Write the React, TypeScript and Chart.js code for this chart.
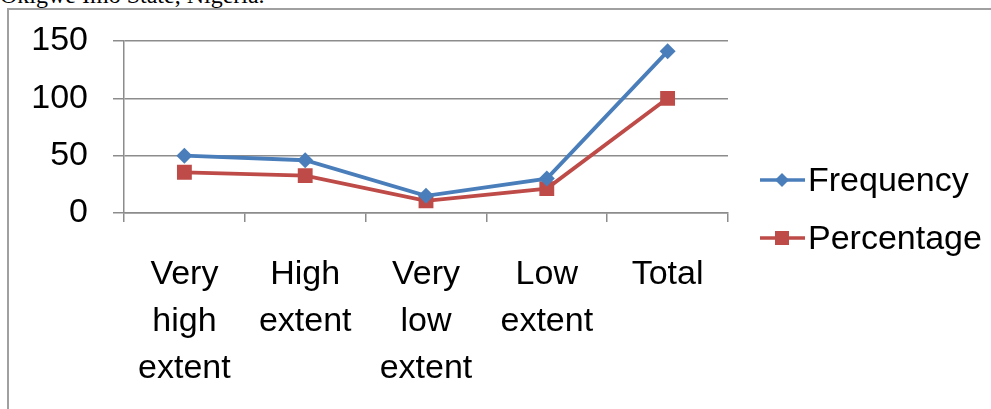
import React, { useEffect, useRef } from 'react';
import { Chart, registerables } from 'chart.js';

Chart.register(...registerables);

const categories = ['Very high extent', 'High extent', 'Very low extent', 'Low extent', 'Total'];
const frequency = [50, 46, 15, 30, 141];
const percentage = [35.5, 32.6, 10.6, 21.3, 100];
const seriesNames = ['Frequency', 'Percentage'];
const yMin = 0;
const yMax = 150;
const yStep = 50;
const captionText = 'Okigwe Imo State, Nigeria.';

const FONT = "'Liberation Sans', Arial, sans-serif";
const BLUE = '#4A7EBB';
const RED = '#BE4B48';
const GRID = '#8c8c8c';

const legendPlugin = {
  id: 'excelLegend',
  afterDraw(chart: any) {
    const ctx = chart.ctx;
    const area = chart.chartArea;
    const x0 = area.right + 32;
    const x1 = area.right + 77;
    const xm = area.right + 54;
    const ys = [area.top + 139, area.top + 197];
    ctx.save();
    chart.data.datasets.forEach((ds: any, i: number) => {
      const y = ys[i];
      ctx.strokeStyle = ds.borderColor;
      ctx.lineWidth = 3.5;
      ctx.beginPath();
      ctx.moveTo(x0, y);
      ctx.lineTo(x1, y);
      ctx.stroke();
      ctx.fillStyle = ds.borderColor;
      if (ds.pointStyle === 'rectRot') {
        const r = 7;
        ctx.beginPath();
        ctx.moveTo(xm, y - r);
        ctx.lineTo(xm + r, y);
        ctx.lineTo(xm, y + r);
        ctx.lineTo(xm - r, y);
        ctx.closePath();
        ctx.fill();
      } else {
        const s = 7;
        ctx.fillRect(xm - s, y - s, 2 * s, 2 * s);
      }
      ctx.fillStyle = '#000';
      ctx.font = `34px ${FONT}`;
      ctx.textBaseline = 'alphabetic';
      ctx.textAlign = 'left';
      ctx.fillText(ds.label, area.right + 80, y + 11);
    });
    ctx.restore();
  },
};

export default function App() {
  const ref = useRef<HTMLCanvasElement>(null);

  useEffect(() => {
    if (!ref.current) return;
    const chart = new Chart(ref.current, {
      type: 'line',
      data: {
        labels: categories,
        datasets: [
          {
            label: seriesNames[0],
            data: frequency,
            borderColor: BLUE,
            backgroundColor: BLUE,
            borderWidth: 3.8,
            pointStyle: 'rectRot',
            pointRadius: 8,
            pointBorderWidth: 0,
            pointBackgroundColor: BLUE,
            tension: 0,
          },
          {
            label: seriesNames[1],
            data: percentage,
            borderColor: RED,
            backgroundColor: RED,
            borderWidth: 3.8,
            pointStyle: 'rect',
            pointRadius: 10.5,
            pointBorderWidth: 0,
            pointBackgroundColor: RED,
            tension: 0,
          },
        ],
      },
      options: {
        animation: false,
        responsive: false,
        maintainAspectRatio: false,
        layout: { padding: { top: 41, right: 263, bottom: 0, left: 0 } },
        plugins: {
          legend: { display: false },
          tooltip: { enabled: false },
          title: { display: false },
        },
        scales: {
          x: {
            type: 'category',
            offset: true,
            afterFit: (s: any) => {
              s.height = 196;
            },
            grid: {
              offset: true,
              drawOnChartArea: false,
              drawTicks: true,
              tickLength: 9,
              color: GRID,
              lineWidth: 1.5,
            },
            border: { display: true, color: GRID, width: 1.5 },
            ticks: {
              color: '#000',
              padding: 29,
              maxRotation: 0,
              autoSkip: false,
              font: { family: FONT, size: 34, lineHeight: 1.38 },
              callback: (_v: any, i: number) => categories[i].split(' '),
            },
          },
          y: {
            min: yMin,
            max: yMax,
            afterFit: (s: any) => {
              s.width = 124;
              s.paddingTop = 0;
              s.paddingBottom = 0;
            },
            grid: {
              color: GRID,
              lineWidth: 1.5,
              tickLength: 11,
              drawTicks: true,
            },
            border: { display: true, color: GRID, width: 1.5 },
            ticks: {
              stepSize: yStep,
              color: '#000',
              padding: 25,
              font: { family: FONT, size: 34 },
            },
          },
        },
      },
      plugins: [legendPlugin],
    } as any);
    return () => chart.destroy();
  }, []);

  return (
    <div
      style={{
        position: 'absolute',
        left: 0,
        top: 0,
        width: 991,
        height: 409,
        overflow: 'hidden',
        background: '#fff',
      }}
    >
      <div
        style={{
          position: 'absolute',
          left: 0,
          top: -17,
          fontFamily: "'Liberation Serif', 'Times New Roman', serif",
          fontSize: 24,
          lineHeight: 1,
          whiteSpace: 'nowrap',
          color: '#000',
        }}
      >
        {captionText}
      </div>
      <div
        style={{
          position: 'absolute',
          left: 7,
          top: 8,
          width: 1100,
          height: 500,
          borderLeft: '2px solid #a0a0a0',
          borderTop: '2px solid #a0a0a0',
        }}
      />
      <canvas
        ref={ref}
        width={991}
        height={409}
        style={{ position: 'absolute', left: 0, top: 0, width: 991, height: 409 }}
      />
    </div>
  );
}
